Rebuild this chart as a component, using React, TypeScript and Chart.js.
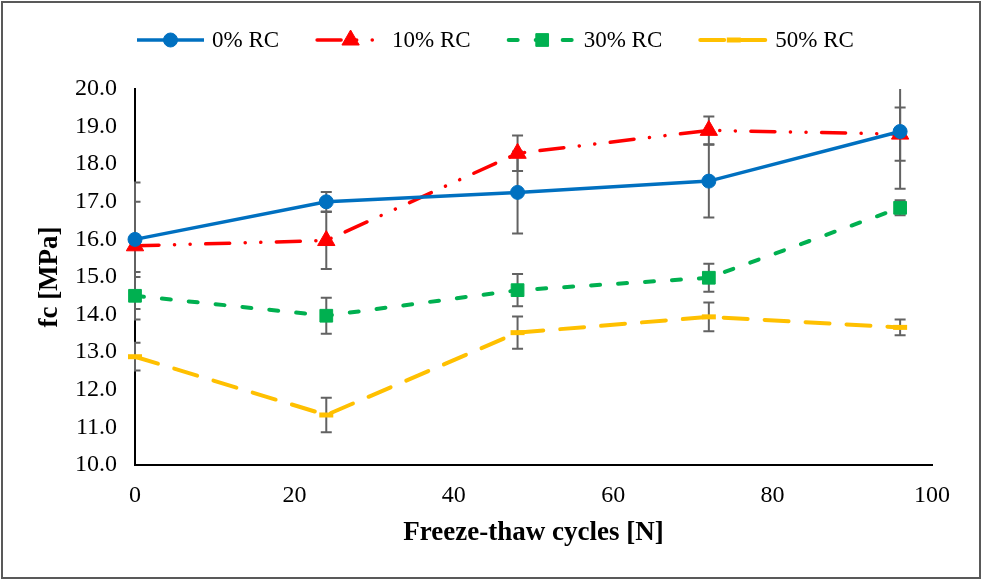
import React, { useEffect, useRef } from 'react';
import { Chart, registerables } from 'chart.js';

Chart.register(...registerables);

// ---------- data ----------
const cycles = [0, 24, 48, 72, 96];
const seriesLabels = ['0% RC', '10% RC', '30% RC', '50% RC'];

const rc0 = [16.0, 17.0, 17.25, 17.55, 18.87];
const rc0Err = [1.0, 0.26, 1.09, 0.97, 1.52];

const rc10 = [15.83, 15.97, 18.29, 18.9, 18.8];
const rc10Err = [1.68, 0.76, 0.47, 0.37, 0.71];

const rc30 = [14.5, 13.97, 14.65, 14.98, 16.84];
const rc30Err = [0.63, 0.48, 0.43, 0.37, 0.2];

const rc50 = [12.88, 11.33, 13.52, 13.94, 13.66];
const rc50Err = [0.37, 0.46, 0.43, 0.38, 0.21];

const xMin = 0;
const xMax = 100;
const xStep = 20;
const yMin = 10;
const yMax = 20;
const yStep = 1;

const xTitle = 'Freeze-thaw cycles [N]';
const yTitle = 'fc [MPa]';

// ---------- styling ----------
const FONT = "'Times New Roman', 'Liberation Serif', serif";
const TICK_SIZE = 24;
const TITLE_SIZE = 27;
const LEGEND_SIZE = 23;

const toPoints = (vals: number[]) => cycles.map((c, i) => ({ x: c, y: vals[i] }));

function drawMarker(ctx: CanvasRenderingContext2D, ds: any, x: number, y: number) {
  const r = ds.pointRadius;
  const color = ds.pointBackgroundColor;
  ctx.save();
  ctx.setLineDash([]);
  ctx.fillStyle = color;
  ctx.strokeStyle = color;
  ctx.lineWidth = ds.pointBorderWidth || 1;
  ctx.beginPath();
  switch (ds.pointStyle) {
    case 'circle':
      ctx.arc(x, y, r, 0, Math.PI * 2);
      ctx.fill();
      ctx.stroke();
      break;
    case 'triangle': {
      for (let k = 0; k < 3; k++) {
        const a = -Math.PI / 2 + (k * 2 * Math.PI) / 3;
        const px = x + Math.cos(a) * r;
        const py = y + Math.sin(a) * r;
        if (k === 0) ctx.moveTo(px, py);
        else ctx.lineTo(px, py);
      }
      ctx.closePath();
      ctx.fill();
      ctx.stroke();
      break;
    }
    case 'rect': {
      const s = r * Math.SQRT1_2;
      ctx.rect(x - s, y - s, 2 * s, 2 * s);
      ctx.fill();
      ctx.stroke();
      break;
    }
    case 'line':
      ctx.lineCap = 'butt';
      ctx.moveTo(x - r, y);
      ctx.lineTo(x + r, y);
      ctx.stroke();
      break;
  }
  ctx.restore();
}

const errorBarPlugin = {
  id: 'errorBars',
  beforeDatasetsDraw(chart: any) {
    const { ctx, chartArea, scales } = chart;
    const ys = scales.y;
    ctx.save();
    ctx.beginPath();
    ctx.rect(chartArea.left - 1, chartArea.top, chartArea.right - chartArea.left + 2, chartArea.bottom - chartArea.top);
    ctx.clip();
    ctx.strokeStyle = '#626262';
    ctx.lineWidth = 2;
    ctx.setLineDash([]);
    chart.data.datasets.forEach((ds: any, di: number) => {
      const meta = chart.getDatasetMeta(di);
      const errs: number[] = ds.errors || [];
      meta.data.forEach((pt: any, i: number) => {
        const v = ds.data[i].y;
        const e = errs[i];
        if (e == null) return;
        const x = pt.x;
        const yt = ys.getPixelForValue(v + e);
        const yb = ys.getPixelForValue(v - e);
        const cap = 5.5;
        ctx.beginPath();
        ctx.moveTo(x, yt);
        ctx.lineTo(x, yb);
        ctx.moveTo(x - cap, yt);
        ctx.lineTo(x + cap, yt);
        ctx.moveTo(x - cap, yb);
        ctx.lineTo(x + cap, yb);
        ctx.stroke();
      });
    });
    ctx.restore();
  },
};

const legendPlugin = {
  id: 'excelLegend',
  afterDraw(chart: any) {
    const { ctx, chartArea } = chart;
    const y = 40;
    let x = chartArea.left;
    const lineLen = 71;
    ctx.save();
    ctx.font = `${LEGEND_SIZE}px ${FONT}`;
    chart.data.datasets.forEach((ds: any) => {
      ctx.save();
      ctx.strokeStyle = ds.borderColor;
      ctx.lineWidth = ds.borderWidth;
      ctx.setLineDash(ds.borderDash || []);
      ctx.lineCap = ds.borderCapStyle || 'butt';
      ctx.beginPath();
      ctx.moveTo(x + 2, y);
      ctx.lineTo(x + lineLen - 2, y);
      ctx.stroke();
      ctx.restore();
      drawMarker(ctx, ds, x + lineLen / 2, y);
      ctx.fillStyle = '#000';
      ctx.textBaseline = 'middle';
      ctx.textAlign = 'left';
      ctx.fillText(ds.label, x + lineLen + 6, y + 1);
      x += lineLen + 6 + ctx.measureText(ds.label).width + 36;
    });
    ctx.restore();
  },
};

const framePlugin = {
  id: 'frame',
  afterDraw(chart: any) {
    const { ctx } = chart;
    ctx.save();
    ctx.strokeStyle = '#595959';
    ctx.lineWidth = 2;
    ctx.strokeRect(2, 2, 978, 576);
    ctx.restore();
  },
};

export default function App() {
  const ref = useRef<HTMLCanvasElement | null>(null);

  useEffect(() => {
    document.body.style.margin = '0';
    const canvas = ref.current;
    if (!canvas) return;

    const chart = new Chart(canvas, {
      type: 'line',
      data: {
        datasets: [
          {
            label: seriesLabels[0],
            data: toPoints(rc0),
            errors: rc0Err,
            borderColor: '#0070C0',
            backgroundColor: '#0070C0',
            borderWidth: 3.5,
            pointStyle: 'circle',
            pointRadius: 7,
            pointBorderWidth: 1,
            pointBackgroundColor: '#0070C0',
            pointBorderColor: '#0070C0',
            clip: false,
          } as any,
          {
            label: seriesLabels[1],
            data: toPoints(rc10),
            errors: rc10Err,
            borderColor: '#FF0000',
            backgroundColor: '#FF0000',
            borderWidth: 3.5,
            borderDash: [24, 15.5, 0.1, 15.5, 0.1, 15.5],
            borderCapStyle: 'round',
            pointStyle: 'triangle',
            pointRadius: 10,
            pointBorderWidth: 1,
            pointBackgroundColor: '#FF0000',
            pointBorderColor: '#FF0000',
            clip: false,
          } as any,
          {
            label: seriesLabels[2],
            data: toPoints(rc30),
            errors: rc30Err,
            borderColor: '#00B050',
            backgroundColor: '#00B050',
            borderWidth: 4,
            borderDash: [9, 18],
            borderCapStyle: 'round',
            pointStyle: 'rect',
            pointRadius: 9,
            pointBorderWidth: 1,
            pointBackgroundColor: '#00B050',
            pointBorderColor: '#00B050',
            clip: false,
          } as any,
          {
            label: seriesLabels[3],
            data: toPoints(rc50),
            errors: rc50Err,
            borderColor: '#FFC000',
            backgroundColor: '#FFC000',
            borderWidth: 4,
            borderDash: [24, 17],
            borderCapStyle: 'round',
            pointStyle: 'line',
            pointRadius: 7,
            pointBorderWidth: 5,
            pointBackgroundColor: '#FFC000',
            pointBorderColor: '#FFC000',
            clip: false,
          } as any,
        ],
      },
      options: {
        responsive: false,
        animation: false,
        devicePixelRatio: 1,
        layout: { padding: { left: 34, top: 89, right: 51, bottom: 32 } },
        plugins: {
          legend: { display: false },
          tooltip: { enabled: false },
        },
        elements: { line: { tension: 0 } },
        scales: {
          x: {
            type: 'linear',
            min: xMin,
            max: xMax,
            grid: { display: false, drawTicks: false },
            border: { display: true, color: '#000', width: 2 },
            ticks: {
              stepSize: xStep,
              color: '#000',
              padding: 16,
              font: { family: FONT, size: TICK_SIZE },
            },
            title: {
              display: true,
              text: xTitle,
              color: '#000',
              padding: 0,
              font: { family: FONT, size: TITLE_SIZE, weight: 'bold' },
            },
            afterFit: (s: any) => {
              s.height = 84;
            },
          },
          y: {
            type: 'linear',
            min: yMin,
            max: yMax,
            grid: { display: false, drawTicks: false },
            border: { display: true, color: '#000', width: 2 },
            ticks: {
              stepSize: yStep,
              color: '#000',
              padding: 18,
              font: { family: FONT, size: TICK_SIZE },
              callback: (v: any) => Number(v).toFixed(1),
            },
            title: {
              display: true,
              text: yTitle,
              color: '#000',
              padding: 0,
              font: { family: FONT, size: TITLE_SIZE, weight: 'bold' },
            },
            afterFit: (s: any) => {
              s.width = 101;
            },
          },
        },
      } as any,
      plugins: [errorBarPlugin, legendPlugin, framePlugin],
    });

    return () => {
      chart.destroy();
    };
  }, []);

  return (
    <div style={{ width: 983, height: 581, background: '#fff' }}>
      <canvas ref={ref} width={983} height={581} style={{ display: 'block' }} />
    </div>
  );
}
